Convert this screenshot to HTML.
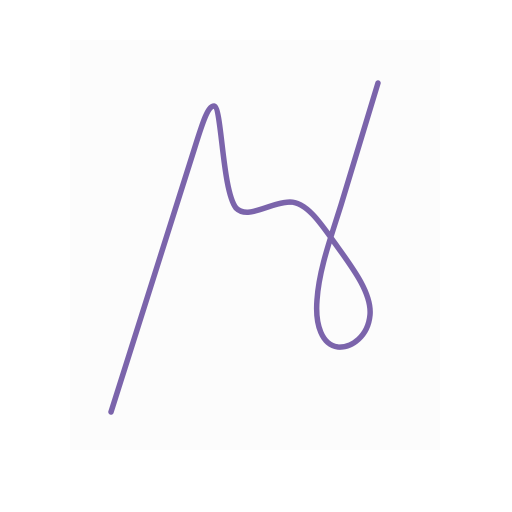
<!DOCTYPE html>
<html><head><meta charset="utf-8"><style>
html,body{margin:0;padding:0;background:#fff;width:512px;height:512px;overflow:hidden}
</style></head><body>
<svg width="512" height="512" viewBox="0 0 512 512" xmlns="http://www.w3.org/2000/svg">
<rect x="0" y="0" width="512" height="512" fill="#ffffff"/>
<rect x="70" y="40" width="370" height="410" fill="#fcfcfc"/>
<path d="M111,412 L194,150 C203,121 208,106 214,106 C222,107 222,190 236,208 C248,220 268,203 290,202 C306,202 320,222 334,242 C352,267 372,293 370,315 C368,336 352,348 338,347 C322,345 315,325 317,300 C319,270 330,240 341,205 L378,83" fill="none" stroke="#7b64ab" stroke-width="5.5" stroke-linecap="round" stroke-linejoin="round"/>
</svg>
</body></html>
